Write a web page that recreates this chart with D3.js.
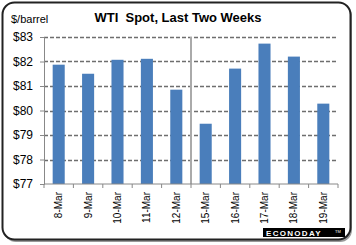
<!DOCTYPE html>
<html>
<head>
<meta charset="utf-8">
<script src="https://cdn.jsdelivr.net/npm/d3@7"></script>
<style>
  body { margin: 0; background: #fff; }
  svg { display: block; font-family: Arial, "Liberation Sans", sans-serif; }
</style>
</head>
<body>
<svg width="356" height="245"></svg>
<script>
var dates = ['8-Mar', '9-Mar', '10-Mar', '11-Mar', '12-Mar', '15-Mar', '16-Mar', '17-Mar', '18-Mar', '19-Mar'];
var prices = [81.87, 81.50, 82.07, 82.11, 80.85, 79.46, 81.71, 82.73, 82.20, 80.28];
var yTicks = [77, 78, 79, 80, 81, 82, 83];

var svg = d3.select('svg');

// Frame with a soft shadow
svg.append('rect')
    .attr('x', 4).attr('y', 4).attr('width', 348).attr('height', 238)
    .attr('rx', 12).attr('fill', '#999');
svg.append('rect')
    .attr('x', 2.5).attr('y', 2.5).attr('width', 348).attr('height', 237)
    .attr('rx', 12).attr('fill', '#fff')
    .attr('stroke', '#222').attr('stroke-width', 2);

var padding = {t: 37, r: 18, b: 61, l: 44};
var chartWidth = 356 - padding.l - padding.r;
var chartHeight = 245 - padding.t - padding.b;

var chartG = svg.append('g')
    .attr('transform', 'translate(' + [padding.l, padding.t] + ')');

var x = d3.scaleBand().domain(dates).range([0, chartWidth]).paddingInner(0.59).paddingOuter(0.295);
var xb = d3.scaleBand().domain(dates).range([0, chartWidth]);
var y = d3.scaleLinear().domain([77, 83]).range([chartHeight, 0]);

// Dashed gridlines
var gridG = chartG.append('g').attr('class', 'grid');
yTicks.slice(1).forEach(function(v) {
    var gy = Math.round(y(v)) + 0.5;
    gridG.append('path')
        .attr('d', 'M0,' + gy + 'H' + chartWidth)
        .attr('fill', 'none')
        .attr('stroke', '#6e6e6e')
        .attr('stroke-width', 1.3)
        .attr('stroke-dasharray', '4,2');
});

// Separator between the two weeks
chartG.append('line')
    .attr('x1', xb('15-Mar')).attr('x2', xb('15-Mar'))
    .attr('y1', 0).attr('y2', chartHeight)
    .attr('stroke', '#aaa').attr('stroke-width', 2);

// Bars
chartG.selectAll('rect.bar')
    .data(prices)
    .enter().append('rect')
    .attr('class', 'bar')
    .attr('x', function(d, i) { return x(dates[i]); })
    .attr('width', x.bandwidth())
    .attr('y', function(d) { return y(d); })
    .attr('height', function(d) { return chartHeight - y(d); })
    .attr('fill', '#4a7ebb');

// Y axis
var yAxis = chartG.append('g')
    .call(d3.axisLeft(y).tickValues(yTicks).tickSize(4).tickFormat(function(d) { return '$' + d; }));
yAxis.select('.domain').attr('stroke', '#888');
yAxis.selectAll('.tick line').attr('stroke', '#888');
yAxis.selectAll('text').attr('font-size', 12).attr('fill', '#000').attr('x', -11);

// X axis with ticks at category boundaries
var xAxisG = chartG.append('g').attr('transform', 'translate(0,' + chartHeight + ')');
xAxisG.append('line').attr('x1', 0).attr('x2', chartWidth)
    .attr('stroke', '#888');
xAxisG.selectAll('line.xtick')
    .data(dates.concat(['end']))
    .enter().append('line')
    .attr('class', 'xtick')
    .attr('x1', function(d, i) { return i * xb.step(); })
    .attr('x2', function(d, i) { return i * xb.step(); })
    .attr('y1', 0).attr('y2', 4)
    .attr('stroke', '#888');
xAxisG.selectAll('text.xlabel')
    .data(dates)
    .enter().append('text')
    .attr('class', 'xlabel')
    .attr('transform', function(d) {
        return 'translate(' + (xb(d) + xb.bandwidth() / 2 + 3.5) + ',8) rotate(-90)';
    })
    .attr('text-anchor', 'end')
    .attr('font-size', 10)
    .text(function(d) { return d; });

// Titles
svg.append('text')
    .attr('x', 178).attr('y', 22)
    .attr('text-anchor', 'middle')
    .attr('font-size', 13).attr('font-weight', 'bold')
    .style('white-space', 'pre')
    .text('WTI  Spot, Last Two Weeks');
svg.append('text')
    .attr('x', 11).attr('y', 23)
    .attr('font-size', 11)
    .text('$/barrel');

// Logo
svg.append('rect')
    .attr('x', 263).attr('y', 228).attr('width', 82).attr('height', 9)
    .attr('fill', '#000');
svg.append('text')
    .attr('x', 266).attr('y', 236)
    .attr('font-size', 8).attr('font-weight', 'bold')
    .attr('letter-spacing', 1.3).attr('fill', '#fff')
    .text('ECONODAY');
svg.append('text')
    .attr('x', 335).attr('y', 233)
    .attr('font-size', 4).attr('fill', '#fff')
    .text('TM');
</script>
</body>
</html>
